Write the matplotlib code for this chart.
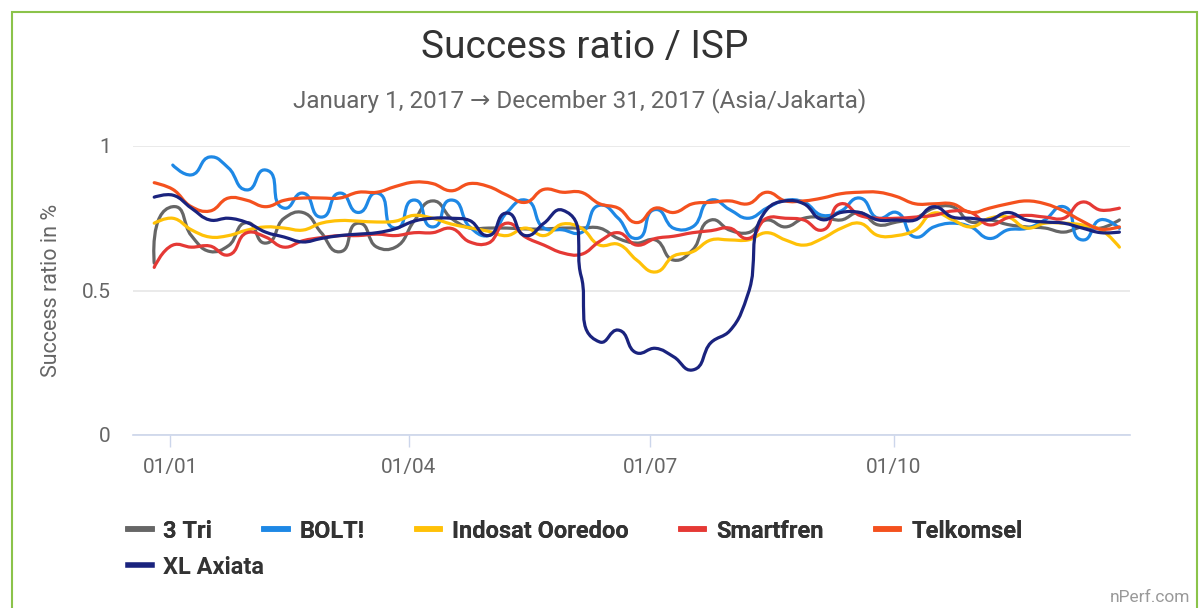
import matplotlib
matplotlib.use("Agg")
import matplotlib.pyplot as plt
import matplotlib.dates as mdates
from matplotlib.patches import Rectangle, PathPatch
from matplotlib.path import Path
from matplotlib.lines import Line2D
import numpy as np
import pandas as pd

plt.rcParams['font.family'] = ['Roboto', 'DejaVu Sans']

# weekly samples (Mondays) from 26 Dec 2016 to 25 Dec 2017
dates = pd.date_range('2016-12-26', periods=53, freq='7D')

series_names = ['3 Tri', 'BOLT!', 'Indosat Ooredoo', 'Smartfren', 'Telkomsel', 'XL Axiata']
series_colors = ['#666666', '#1e88e5', '#ffc107', '#e53935', '#f4511e', '#1a237e']

tri = [0.595, 0.79, 0.69, 0.635, 0.655, 0.735, 0.664, 0.75, 0.77, 0.70,
       0.634, 0.733, 0.65, 0.65, 0.74, 0.81, 0.75, 0.716, 0.716, 0.716,
       0.713, 0.713, 0.716, 0.716, 0.716, 0.68, 0.664, 0.675, 0.605, 0.64,
       0.744, 0.709, 0.70, 0.744, 0.72, 0.75, 0.754, 0.744, 0.77, 0.727,
       0.737, 0.75, 0.785, 0.79, 0.737, 0.744, 0.728, 0.72, 0.716, 0.702,
       0.72, 0.716, 0.744]
bolt = [np.nan, 0.934, 0.90, 0.962, 0.924, 0.848, 0.917, 0.785, 0.837, 0.754,
        0.837, 0.77, 0.837, 0.716, 0.813, 0.72, 0.813, 0.72, 0.69, 0.77,
        0.813, 0.716, 0.71, 0.70, 0.795, 0.75, 0.68, 0.78, 0.715, 0.72,
        0.813, 0.78, 0.75, 0.785, 0.812, 0.806, 0.76, 0.775, 0.82, 0.75,
        0.77, 0.685, 0.72, 0.733, 0.72, 0.68, 0.71, 0.715, 0.745, 0.79,
        0.675, 0.745, 0.715]
indosat = [0.733, 0.75, 0.71, 0.685, 0.69, 0.709, 0.72, 0.716, 0.709, 0.733,
           0.742, 0.74, 0.737, 0.74, 0.76, 0.75, 0.73, 0.717, 0.705, 0.69,
           0.716, 0.69, 0.73, 0.716, 0.657, 0.66, 0.605, 0.564, 0.62, 0.634,
           0.675, 0.675, 0.675, 0.70, 0.675, 0.657, 0.68, 0.715, 0.733, 0.69,
           0.69, 0.709, 0.768, 0.745, 0.72, 0.75, 0.754, 0.716, 0.733, 0.733,
           0.727, 0.71, 0.65]
smartfren = [0.58, 0.657, 0.65, 0.654, 0.623, 0.70, 0.685, 0.65, 0.672, 0.683,
             0.69, 0.69, 0.695, 0.69, 0.70, 0.70, 0.715, 0.668, 0.664, 0.733,
             0.685, 0.657, 0.63, 0.625, 0.67, 0.70, 0.657, 0.68, 0.688, 0.70,
             0.707, 0.716, 0.68, 0.75, 0.75, 0.744, 0.709, 0.80, 0.76, 0.75,
             0.75, 0.754, 0.76, 0.775, 0.77, 0.727, 0.752, 0.76, 0.754, 0.75,
             0.806, 0.778, 0.785]
telkomsel = [0.873, 0.85, 0.79, 0.775, 0.82, 0.812, 0.79, 0.812, 0.82, 0.82,
             0.82, 0.84, 0.84, 0.86, 0.875, 0.87, 0.845, 0.87, 0.86, 0.83,
             0.805, 0.85, 0.84, 0.84, 0.80, 0.785, 0.735, 0.785, 0.77, 0.80,
             0.805, 0.81, 0.80, 0.84, 0.81, 0.81, 0.82, 0.835, 0.84, 0.84,
             0.825, 0.80, 0.80, 0.80, 0.77, 0.785, 0.80, 0.81, 0.80, 0.775,
             0.74, 0.712, 0.72]
xl = [0.823, 0.83, 0.785, 0.744, 0.75, 0.735, 0.702, 0.685, 0.668, 0.68,
      0.69, 0.695, 0.70, 0.714, 0.74, 0.75, 0.75, 0.742, 0.69, 0.768,
      0.69, 0.733, 0.778, 0.55, 0.322, 0.363, 0.284, 0.30, 0.27, 0.225,
      0.32, 0.36, 0.49, 0.78, 0.81, 0.80, 0.745, 0.77, 0.77, 0.744,
      0.744, 0.744, 0.79, 0.754, 0.75, 0.745, 0.77, 0.744, 0.737, 0.733,
      0.716, 0.70, 0.702]

values = [tri, bolt, indosat, smartfren, telkomsel, xl]

tick_dates = ['2017-01-01', '2017-04-01', '2017-07-01', '2017-10-01']
tick_labels = ['01/01', '01/04', '01/07', '01/10']
y_ticks = [0, 0.5, 1]
y_tick_labels = ['0', '0.5', '1']

W, H = 1203, 608
fig = plt.figure(figsize=(W / 100, H / 100), dpi=100)
ax = fig.add_axes([133 / W, 1 - 435 / H, (1130 - 133) / W, (435 - 146) / H])

ax.set_ylim(0, 1)
ax.set_xlim(mdates.date2num(pd.Timestamp('2016-12-18')),
            mdates.date2num(pd.Timestamp('2017-12-29')))
ax.xaxis_date()


def spline_path(xs, ys):
    """Smooth curve through the points (Highcharts-style spline), built in
    display space and mapped back to data space."""
    pts = ax.transData.transform(np.column_stack([xs, ys]))
    n = len(pts)
    sm = 1.5
    den = sm + 1
    lc = pts.copy()
    rc = pts.copy()
    for i in range(1, n - 1):
        px, py = pts[i]
        lx, ly = pts[i - 1]
        nx, ny = pts[i + 1]
        lcx, lcy = (sm * px + lx) / den, (sm * py + ly) / den
        rcx, rcy = (sm * px + nx) / den, (sm * py + ny) / den
        dl = np.hypot(lcx - px, lcy - py)
        dr = np.hypot(rcx - px, rcy - py)
        la = np.arctan2(lcy - py, lcx - px)
        ra = np.arctan2(rcy - py, rcx - px)
        ja = np.pi / 2 + (la + ra) / 2
        if abs(la - ja) > np.pi / 2:
            ja -= np.pi
        lc[i] = [px + np.cos(ja) * dl, py + np.sin(ja) * dl]
        rc[i] = [px + np.cos(np.pi + ja) * dr, py + np.sin(np.pi + ja) * dr]
    verts = [pts[0]]
    codes = [Path.MOVETO]
    for i in range(1, n):
        verts += [rc[i - 1], lc[i], pts[i]]
        codes += [Path.CURVE4] * 3
    verts = ax.transData.inverted().transform(np.array(verts))
    return Path(verts, codes)


xnum = mdates.date2num(dates)
handles = []
for name, vals, col in zip(series_names, values, series_colors):
    v = np.asarray(vals, dtype=float)
    ok = ~np.isnan(v)
    path = spline_path(xnum[ok], v[ok])
    ax.add_patch(PathPatch(path, facecolor='none', edgecolor=col, lw=2.3,
                           joinstyle='round', capstyle='round', zorder=3))
    handles.append(Line2D([], [], color=col, lw=4, label=name))

ax.set_yticks(y_ticks)
ax.set_yticklabels(y_tick_labels)
ax.set_xticks(mdates.date2num(pd.to_datetime(tick_dates)))
ax.set_xticklabels(tick_labels)

for s in ['top', 'right', 'left']:
    ax.spines[s].set_visible(False)
ax.spines['bottom'].set_color('#ccd6eb')
ax.spines['bottom'].set_linewidth(1.2)
ax.grid(axis='y', color='#e6e6e6', lw=1.2)
ax.set_axisbelow(True)
ax.tick_params(axis='x', direction='out', length=8.6, width=1, color='#ccd6eb',
               labelcolor='#666666', labelsize=15, pad=8)
ax.tick_params(axis='y', length=0, labelcolor='#666666', labelsize=15, pad=16)

ax.set_ylabel('Success ratio in %', color='#666666', fontsize=15.5)
ax.yaxis.set_label_coords((62 - 133) / 997, 0.5)

fig.text(585 / W, 1 - 48 / H, 'Success ratio / ISP', ha='center', va='center',
         fontsize=28, color='#333333')
fig.text(580 / W, 1 - 101 / H,
         'January 1, 2017 \u2192 December 31, 2017 (Asia/Jakarta)',
         ha='center', va='center', fontsize=17.5, color='#666666')

leg_kw = dict(frameon=False, handlelength=1.0, handletextpad=0.5,
              columnspacing=2.2, borderpad=0, borderaxespad=0,
              prop={'size': 17, 'weight': 'bold'}, labelcolor='#333333')
leg1 = fig.legend(handles=handles[:5], loc='center left',
                  bbox_to_anchor=(128 / W, 1 - 531 / H), ncol=5, **leg_kw)
fig.add_artist(leg1)
leg2 = fig.legend(handles=handles[5:], loc='center left',
                  bbox_to_anchor=(128 / W, 1 - 567 / H), ncol=1, **leg_kw)

fig.text(1190 / W, 1 - 597 / H, 'nPerf.com', ha='right', va='center',
         fontsize=12.5, color='#999999')

border = Rectangle((12 / W, -0.05), (1197 - 12) / W, 1 - 12 / H + 0.05,
                   transform=fig.transFigure, fill=False, edgecolor='#8bc34a',
                   lw=1.5, clip_on=False)
fig.add_artist(border)

fig.savefig('out.png', dpi=100)
